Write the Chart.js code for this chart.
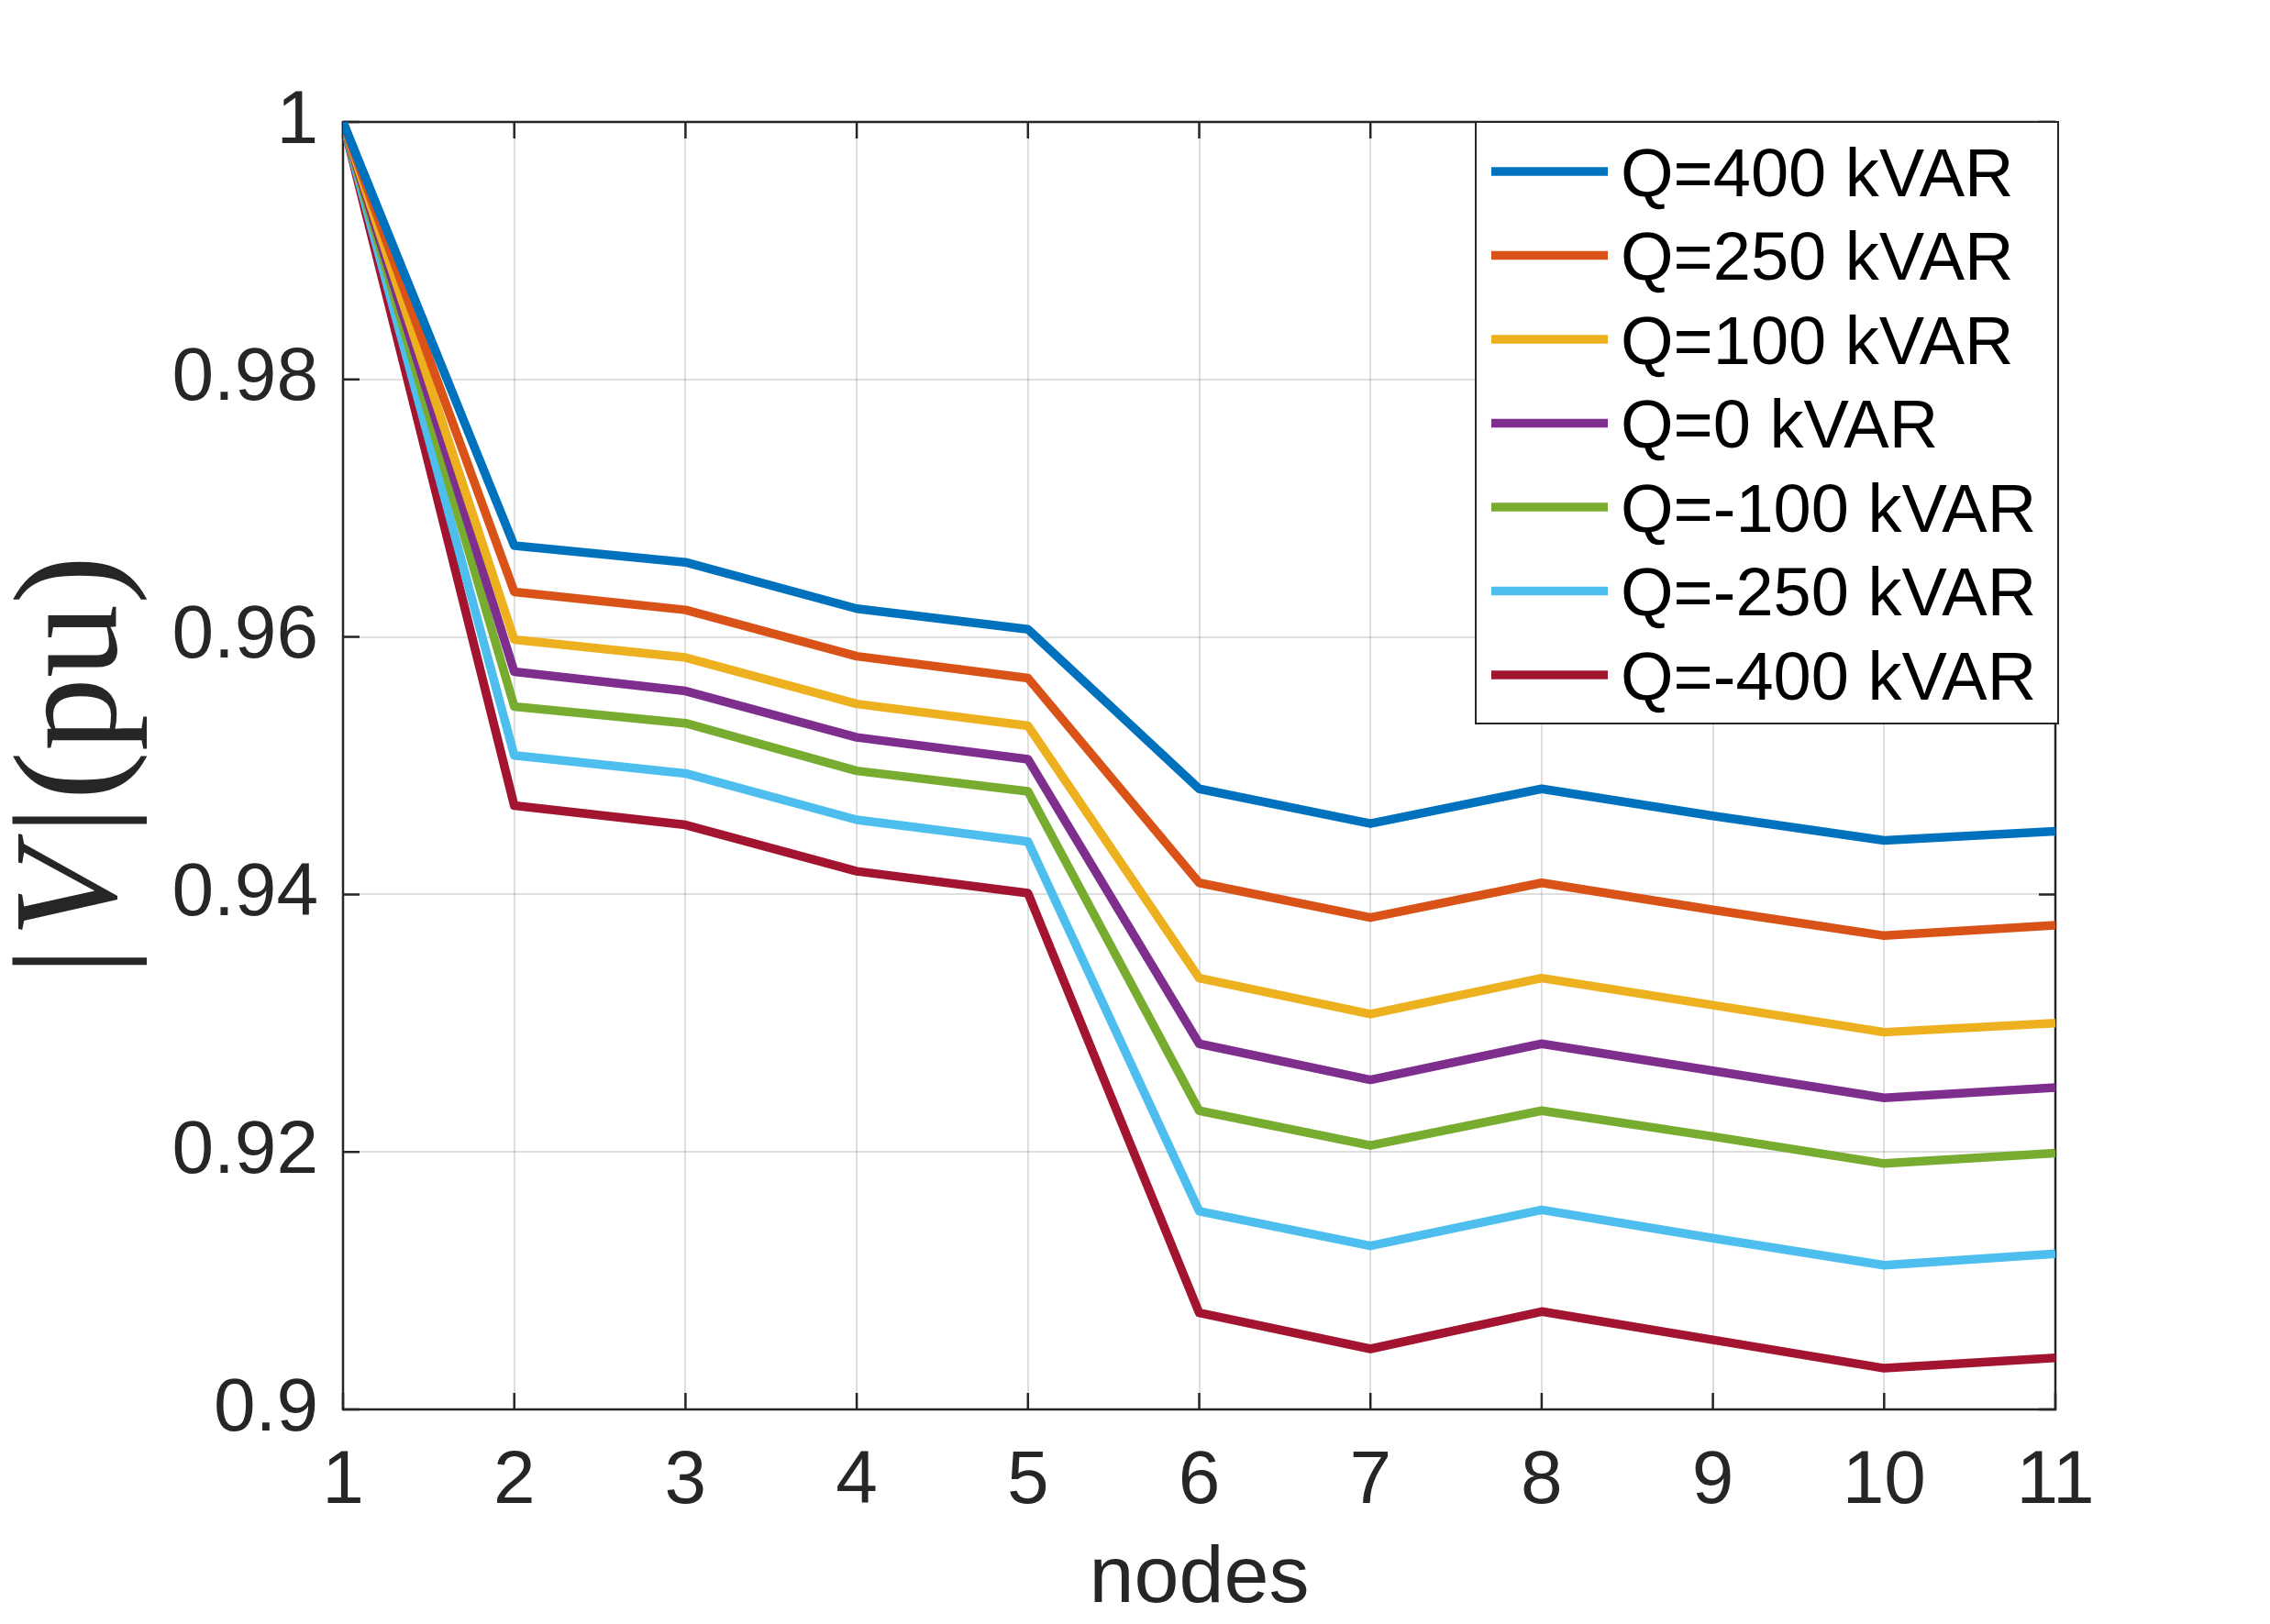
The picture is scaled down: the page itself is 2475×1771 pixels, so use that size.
<!DOCTYPE html>
<html>
<head>
<meta charset="utf-8">
<script src="https://cdn.jsdelivr.net/npm/chart.js@4.4.1/dist/chart.umd.min.js"></script>
<style>
  html, body { margin: 0; padding: 0; background: #fff; }
  #wrap { width: 2475px; height: 1771px; position: relative; }
</style>
</head>
<body>
<div id="wrap"><canvas id="chart"></canvas></div>
<script>
// node numbers along the feeder
const nodes = [1, 2, 3, 4, 5, 6, 7, 8, 9, 10, 11];

// voltage magnitude (pu) per reactive power injection
const q400  = [1, 0.9671, 0.9658, 0.9622, 0.9606, 0.9482, 0.9455, 0.9482, 0.9461, 0.9442, 0.9449];
const q250  = [1, 0.9635, 0.9621, 0.9585, 0.9568, 0.9409, 0.9382, 0.9409, 0.9388, 0.9368, 0.9376];
const q100  = [1, 0.9598, 0.9584, 0.9548, 0.9531, 0.9335, 0.9307, 0.9335, 0.9314, 0.9293, 0.9300];
const q0    = [1, 0.9573, 0.9558, 0.9522, 0.9505, 0.9284, 0.9256, 0.9284, 0.9263, 0.9242, 0.9250];
const qm100 = [1, 0.9546, 0.9533, 0.9496, 0.9480, 0.9232, 0.9205, 0.9232, 0.9212, 0.9191, 0.9199];
const qm250 = [1, 0.9508, 0.9494, 0.9458, 0.9441, 0.9154, 0.9127, 0.9155, 0.9133, 0.9112, 0.9121];
const qm400 = [1, 0.9469, 0.9454, 0.9418, 0.9401, 0.9075, 0.9047, 0.9076, 0.9054, 0.9032, 0.9040];

const seriesLabels = ["Q=400 kVAR", "Q=250 kVAR", "Q=100 kVAR", "Q=0 kVAR",
                      "Q=-100 kVAR", "Q=-250 kVAR", "Q=-400 kVAR"];
const seriesValues = [q400, q250, q100, q0, qm100, qm250, qm400];
const seriesColors = ["#0072BD", "#D95319", "#EDB120", "#7E2F8E", "#77AC30", "#4DBEEE", "#A2142F"];

const yTicks = [0.9, 0.92, 0.94, 0.96, 0.98, 1];

const AXIS = "#262626";
const FONT = "'Liberation Sans', Arial, Helvetica, sans-serif";

// matlab style box, inward ticks, titles and legend
const matlabAxes = {
  id: "matlabAxes",
  beforeDatasetsDraw(chart) {
    const { ctx, chartArea: a, scales } = chart;
    ctx.save();
    ctx.strokeStyle = AXIS;
    ctx.lineWidth = 2.5;
    ctx.strokeRect(a.left, a.top, a.right - a.left, a.bottom - a.top);
    const tl = 18;
    ctx.beginPath();
    scales.x.ticks.forEach((t, i) => {
      const px = scales.x.getPixelForTick(i);
      ctx.moveTo(px, a.bottom); ctx.lineTo(px, a.bottom - tl);
      ctx.moveTo(px, a.top); ctx.lineTo(px, a.top + tl);
    });
    scales.y.ticks.forEach((t, i) => {
      const py = scales.y.getPixelForTick(i);
      ctx.moveTo(a.left, py); ctx.lineTo(a.left + tl, py);
      ctx.moveTo(a.right, py); ctx.lineTo(a.right - tl, py);
    });
    ctx.stroke();
    ctx.restore();
  },
  afterDraw(chart) {
    const { ctx, chartArea: a } = chart;
    ctx.save();

    // x title
    ctx.fillStyle = AXIS;
    ctx.font = "88px " + FONT;
    ctx.textAlign = "center";
    ctx.textBaseline = "alphabetic";
    ctx.fillText("nodes", (a.left + a.right) / 2, 1747);

    // y title |V|(pu), latex look
    ctx.save();
    ctx.translate(126, (a.top + a.bottom) / 2);
    ctx.rotate(-Math.PI / 2);
    const up = "160px 'Liberation Serif', 'Times New Roman', serif";
    const it = "italic 160px 'Liberation Serif', 'Times New Roman', serif";
    const parts = [["|", up, 10], ["V", it, 14], ["|", up, 6], ["(pu)", up, 0]];
    let total = 0;
    parts.forEach(p => { ctx.font = p[1]; total += ctx.measureText(p[0]).width + p[2]; });
    let x = -total / 2;
    ctx.textAlign = "left";
    parts.forEach(p => {
      ctx.font = p[1];
      ctx.fillText(p[0], x, 0);
      x += ctx.measureText(p[0]).width + p[2];
    });
    ctx.restore();

    // legend box in upper right corner
    const box = { left: 1609, top: a.top, right: 2244, bottom: 789 };
    ctx.fillStyle = "#fff";
    ctx.fillRect(box.left, box.top, box.right - box.left, box.bottom - box.top);
    ctx.strokeStyle = AXIS;
    ctx.lineWidth = 2;
    ctx.strokeRect(box.left, box.top, box.right - box.left, box.bottom - box.top);
    ctx.font = "74px " + FONT;
    ctx.textAlign = "left";
    ctx.textBaseline = "alphabetic";
    chart.data.datasets.forEach((ds, i) => {
      const cy = 187 + i * 91.5;
      ctx.strokeStyle = ds.borderColor;
      ctx.lineWidth = 9.5;
      ctx.beginPath();
      ctx.moveTo(1626, cy); ctx.lineTo(1753, cy);
      ctx.stroke();
      ctx.fillStyle = "#000";
      ctx.fillText(ds.label, 1767, cy + 26.5);
    });
    ctx.restore();
  }
};

new Chart(document.getElementById("chart"), {
  type: "line",
  data: {
    datasets: seriesValues.map((vals, i) => ({
      label: seriesLabels[i],
      data: nodes.map((n, j) => ({ x: n, y: vals[j] })),
      borderColor: seriesColors[i],
      backgroundColor: seriesColors[i],
      borderWidth: 9.5,
      pointRadius: 0,
      tension: 0,
      fill: false,
      borderJoinStyle: "round"
    }))
  },
  options: {
    responsive: true,
    maintainAspectRatio: false,
    animation: false,
    devicePixelRatio: 1,
    layout: { padding: { top: 133, right: 234, left: 0, bottom: 0 } },
    plugins: { legend: { display: false }, tooltip: { enabled: false } },
    scales: {
      x: {
        type: "linear",
        min: 1,
        max: 11,
        afterBuildTicks: s => { s.ticks = nodes.map(v => ({ value: v })); },
        afterFit: s => { s.height = 234; },
        grid: { color: "rgba(38,38,38,0.15)", lineWidth: 2, drawTicks: false },
        border: { display: false },
        ticks: { color: AXIS, font: { family: FONT, size: 82 }, padding: 30, maxRotation: 0 }
      },
      y: {
        min: 0.9,
        max: 1,
        afterBuildTicks: s => { s.ticks = yTicks.map(v => ({ value: v })); },
        afterFit: s => { s.width = 374; },
        grid: { color: "rgba(38,38,38,0.15)", lineWidth: 2, drawTicks: false },
        border: { display: false },
        ticks: {
          color: AXIS,
          font: { family: FONT, size: 82 },
          padding: 27,
          callback: v => String(Number(v.toFixed(2)))
        }
      }
    }
  },
  plugins: [matlabAxes]
});
</script>
</body>
</html>
